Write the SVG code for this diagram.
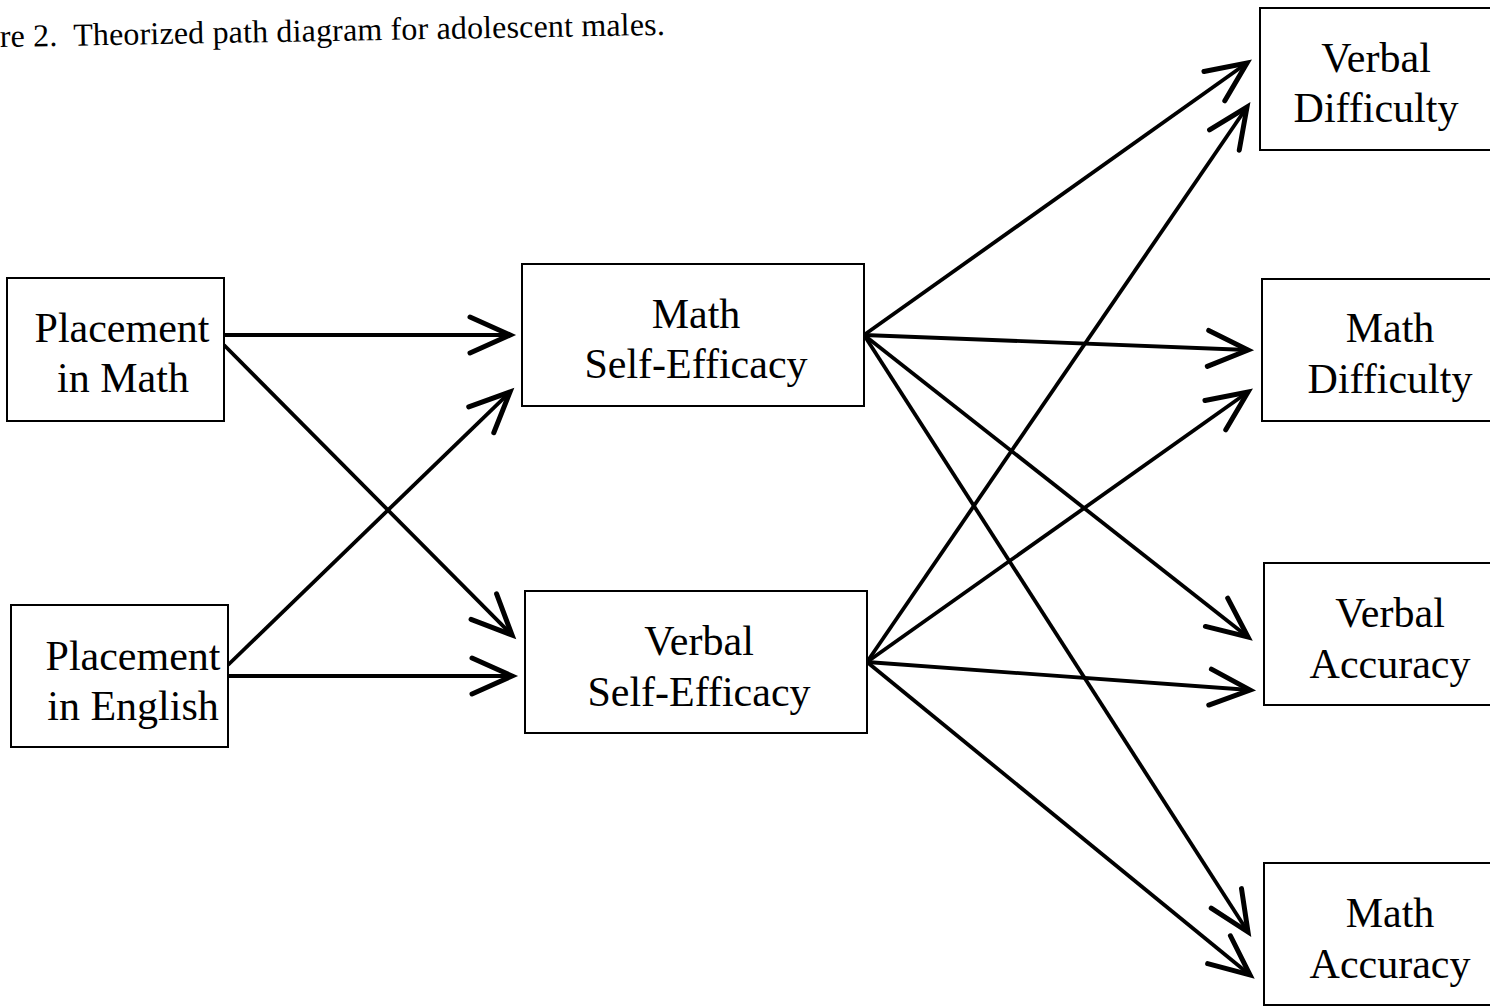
<svg xmlns="http://www.w3.org/2000/svg" width="1490" height="1006" viewBox="0 0 1490 1006">
  <style>
    .box { fill: #ffffff; stroke: #000000; stroke-width: 2; }
    .lbl { font-family: "Liberation Serif", "Times New Roman", serif; font-size: 42px; fill: #000000; text-anchor: middle; }
    .title { font-family: "Liberation Serif", "Times New Roman", serif; font-size: 32px; fill: #000000; }
    .edge { fill: none; stroke: #000000; stroke-width: 3.8; marker-end: url(#vhead); }
  </style>
  <defs>
    <marker id="vhead" markerUnits="userSpaceOnUse" markerWidth="60" markerHeight="60" viewBox="-50 -30 60 60" refX="0" refY="0" orient="auto" overflow="visible">
      <path d="M-40,-18 L0,0 L-40,18" fill="none" stroke="#000000" stroke-width="5" stroke-linecap="round" stroke-linejoin="miter"/>
    </marker>
  </defs>

  <text class="title" x="0" y="47" transform="rotate(-1.05 0 47)" textLength="665" lengthAdjust="spacing" xml:space="preserve">re 2.  Theorized path diagram for adolescent males.</text>

  <g id="connectors">
    <line class="edge" x1="224" y1="335" x2="510" y2="335"/>
    <line class="edge" x1="224" y1="345" x2="512" y2="635"/>
    <line class="edge" x1="228" y1="665" x2="510" y2="392"/>
    <line class="edge" x1="228" y1="676" x2="512" y2="676"/>

    <line class="edge" x1="864" y1="335" x2="1247" y2="63"/>
    <line class="edge" x1="864" y1="335" x2="1248" y2="350"/>
    <line class="edge" x1="864" y1="335" x2="1248" y2="637"/>
    <line class="edge" x1="864" y1="335" x2="1248" y2="932"/>

    <line class="edge" x1="867" y1="662" x2="1247" y2="107"/>
    <line class="edge" x1="867" y1="662" x2="1248" y2="392"/>
    <line class="edge" x1="867" y1="662" x2="1250" y2="690"/>
    <line class="edge" x1="867" y1="662" x2="1250" y2="975"/>
  </g>

  <g id="placement-math">
    <rect class="box" x="7" y="278" width="217" height="143"/>
    <text class="lbl" x="122" y="342">Placement</text>
    <text class="lbl" x="123" y="392">in Math</text>
  </g>

  <g id="placement-english">
    <rect class="box" x="11" y="605" width="217" height="142"/>
    <text class="lbl" x="133" y="670">Placement</text>
    <text class="lbl" x="133" y="720">in English</text>
  </g>

  <g id="math-self-efficacy">
    <rect class="box" x="522" y="264" width="342" height="142"/>
    <text class="lbl" x="696" y="328">Math</text>
    <text class="lbl" x="696" y="378">Self-Efficacy</text>
  </g>

  <g id="verbal-self-efficacy">
    <rect class="box" x="525" y="591" width="342" height="142"/>
    <text class="lbl" x="699" y="655">Verbal</text>
    <text class="lbl" x="699" y="706">Self-Efficacy</text>
  </g>

  <g id="verbal-difficulty">
    <rect class="box" x="1260" y="8" width="240" height="142"/>
    <text class="lbl" x="1376" y="72">Verbal</text>
    <text class="lbl" x="1376" y="122">Difficulty</text>
  </g>

  <g id="math-difficulty">
    <rect class="box" x="1262" y="279" width="240" height="142"/>
    <text class="lbl" x="1390" y="342">Math</text>
    <text class="lbl" x="1390" y="393">Difficulty</text>
  </g>

  <g id="verbal-accuracy">
    <rect class="box" x="1264" y="563" width="240" height="142"/>
    <text class="lbl" x="1390" y="627">Verbal</text>
    <text class="lbl" x="1390" y="678">Accuracy</text>
  </g>

  <g id="math-accuracy">
    <rect class="box" x="1264" y="863" width="240" height="142"/>
    <text class="lbl" x="1390" y="927">Math</text>
    <text class="lbl" x="1390" y="978">Accuracy</text>
  </g>
</svg>
